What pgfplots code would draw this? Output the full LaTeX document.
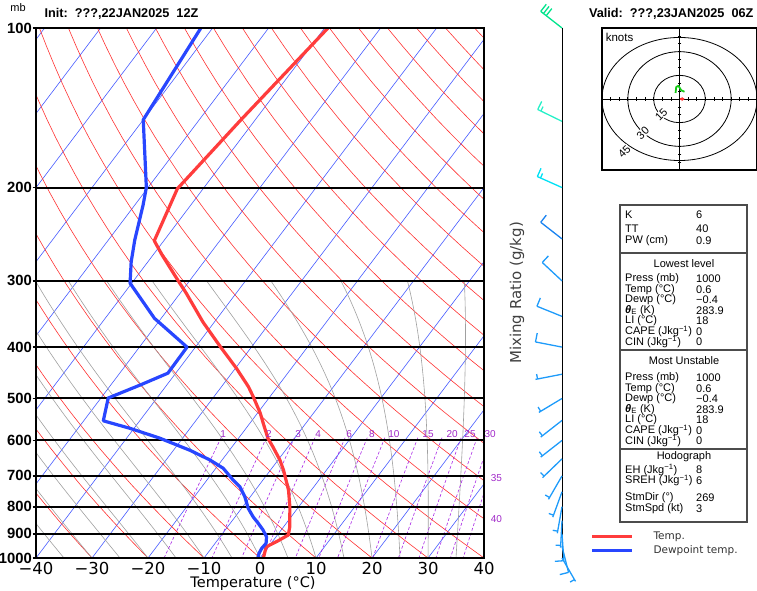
\documentclass[border=0pt]{standalone}
\usepackage{pgfplots}
\pgfplotsset{compat=1.18}
\usepackage{pgfplotstable}
\usepackage{fontspec}
\setmainfont{Liberation Sans}
\newfontfamily\dejavu{DejaVu Sans}
\usetikzlibrary{arrows.meta}

\definecolor{isocol}{RGB}{70,90,255}
\definecolor{drycol}{RGB}{255,50,50}
\definecolor{moistcol}{RGB}{160,160,160}
\definecolor{mixcol}{RGB}{170,40,230}
\definecolor{mixlab}{RGB}{160,40,200}
\definecolor{tcol}{RGB}{255,60,60}
\definecolor{tdcol}{RGB}{40,70,255}
\definecolor{hodogreen}{RGB}{20,200,20}

\pgfplotsset{colormap={windmap}{rgb255(0)=(30,155,250) rgb255(1)=(25,130,240) rgb255(2)=(0,225,245) rgb255(3)=(40,240,200) rgb255(4)=(0,228,140)}}

% ---------- sounding data ----------
\pgfplotstableread{
p T
1000 0.6
953 -0.4
928 0.9
905 1.95
873 1.1
800 -1.6
744 -4.1
682 -7.7
653 -9.7
617 -12.7
595 -14.7
557 -17.6
533 -19.5
496 -23.0
475 -25.2
438 -29.9
400 -35.5
359 -42.0
316 -49.0
300 -52.0
268 -58.4
252 -61.7
201 -64.6
150 -62.6
100 -59.4
}\temptable

\pgfplotstableread{
p T
1000 -0.4
980 -0.8
959 -1.0
938 -0.9
912 -1.7
886 -3.2
860 -5.0
836 -6.8
806 -8.8
766 -11.0
734 -13.2
713 -15.3
677 -18.7
653 -22.2
626 -27.1
594 -34.1
569 -40.8
551 -46.5
499 -48.7
472 -44.8
448 -41.4
400 -41.5
353 -51.2
303 -60.3
276 -63.0
251 -65.3
216 -68.5
200 -70.3
149 -80.0
100 -82.1
}\dewtable

% winds: p, direction (deg), colour index
\pgfplotstableread{
p d c
100 308 4
150 296 3
200 294 2
250 308 1
300 313 0
350 292 0
400 281 0
450 259 0
500 239 0
550 232 0
600 232 0
650 226 0
700 210 0
750 200 0
800 190 0
850 183 0
900 176 0
950 166 0
1000 150 0
}\staffs

\pgfplotstableread{
p d k c
100 308 0 4
100 308 1 4
100 308 2 4
150 296 0 3
200 294 0 2
250 308 0 1
300 313 0 0
350 292 0 0
400 281 0 0
900 176 0 0
950 166 0 0
}\fullbarbs

\pgfplotstableread{
p d k c
150 296 1 3
200 294 1 2
450 259 0.6 0
500 239 0.6 0
550 232 0.6 0
600 232 0.6 0
650 226 0.6 0
700 210 0.6 0
750 200 0.6 0
800 190 0.6 0
850 183 0.6 0
1000 150 0.6 0
}\halfbarbs

% ---------- moist adiabats (pseudo-adiabatic, Euler steps of 10 hPa) ----------
\ExplSyntaxOn
\fp_new:N \l_sk_t_fp
\fp_new:N \l_sk_p_fp
\fp_new:N \l_sk_es_fp
\fp_new:N \l_sk_ws_fp
\tl_new:N \g_sk_coords_tl
\cs_new_protected:Npn \skmoist #1
  {
    \fp_set:Nn \l_sk_t_fp { #1 + 273.15 }
    \fp_set:Nn \l_sk_p_fp { 1000 }
    \tl_gset:Nx \g_sk_coords_tl { ( \fp_eval:n { #1 } , 1000 ) }
    \int_step_inline:nn { 70 }
      {
        \fp_set:Nn \l_sk_es_fp
          { 6.112 * exp ( 17.67 * ( \l_sk_t_fp - 273.15 ) / ( \l_sk_t_fp - 29.65 ) ) }
        \fp_set:Nn \l_sk_ws_fp
          { 0.622 * \l_sk_es_fp / ( \l_sk_p_fp - \l_sk_es_fp ) }
        \fp_set:Nn \l_sk_t_fp
          { \l_sk_t_fp - 10 / \l_sk_p_fp * ( 287.04 * \l_sk_t_fp + 2.501e6 * \l_sk_ws_fp )
            / ( 1005.7 + 2.501e6 * 2.501e6 * 0.622 * \l_sk_ws_fp / ( 287.04 * \l_sk_t_fp * \l_sk_t_fp ) ) }
        \fp_sub:Nn \l_sk_p_fp { 10 }
        \tl_gput_right:Nx \g_sk_coords_tl
          { ( \fp_eval:n { round ( \l_sk_t_fp - 273.15 + 31.07 * ln ( 1000 / \l_sk_p_fp ) , 3 ) } , \fp_eval:n { \l_sk_p_fp } ) }
      }
  }
\cs_new_protected:Npn \sk_addplot:n #1
  { \addplot [ moistcol , line~width = 0.6pt ] coordinates { #1 } ; }
\cs_new_protected:Npn \skplotmoist #1
  {
    \skmoist {#1}
    \exp_args:NV \sk_addplot:n \g_sk_coords_tl
  }
\ExplSyntaxOff

\newcommand\tabfont{\fontsize{11}{12}\selectfont}
\newcommand\trow[3]{%
  \node[anchor=west, font=\tabfont, inner sep=0pt] at (625,591-#1) {#2};
  \node[anchor=west, font=\tabfont, inner sep=0pt] at (696,591-#1) {#3};}

\begin{document}
\begin{tikzpicture}[x=1pt,y=1pt]
\path[use as bounding box] (0,0) rectangle (757,591);

% ================= main skew-T =================
\begin{axis}[
  at={(36pt,33pt)}, anchor=south west, scale only axis,
  width=448pt, height=530pt,
  xmin=-40, xmax=40, ymode=log, ymin=100, ymax=1000, y dir=reverse,
  ytick={100,200,300,400,500,600,700,800,900,1000},
  yticklabels={100,200,300,400,500,600,700,800,900,1000},
  yminorticks=false, xminorticks=false,
  ytick pos=left, tick align=outside, major tick length=3.5pt,
  xtick={-40,-30,-20,-10,0,10,20,30,40},
  xticklabels={−40,−30,−20,−10,0,10,20,30,40},
  xtick style={draw=none},
  ytick style={line width=1.8pt, black},
  yticklabel style={font=\bfseries\fontsize{14.8}{16}\selectfont, inner sep=0.5pt},
  xticklabel style={font=\dejavu\fontsize{16.5}{17}\selectfont, inner sep=0.5pt},
  axis line style={line width=1.8pt},
  axis on top,
  clip mode=individual,
]
% isotherms
\pgfplotsinvokeforeach{-130,-120,...,40}{
  \addplot[isocol, line width=0.6pt, domain=0:1, samples=2] ({#1+71.54*x}, {1000*exp(-2.302585*x)});
}
% dry adiabats
\pgfplotsinvokeforeach{-40,-30,...,200}{
  \addplot[drycol, line width=0.6pt, domain=0:2.302585, samples=30] ({(#1+273.15)*exp(-0.28571*x) - 273.15 + 31.07*x}, {1000*exp(-x)});
}
% moist adiabats
\pgfplotsinvokeforeach{-40,-35,...,35}{\skplotmoist{#1}}
% mixing ratio lines
\pgfplotsinvokeforeach{1,2,3,4,6,8,10,15,20,25,30,35,40}{
  \addplot[mixcol, line width=0.6pt, dash pattern=on 3pt off 2pt, domain=593:1000, samples=6]
    ({243.5*ln(x*#1/(622+#1)/6.112)/(17.67-ln(x*#1/(622+#1)/6.112)) + 31.07*ln(1000/x)}, {x});
}
% isobars
\pgfplotsinvokeforeach{200,300,400,500,600,700,800,900}{
  \draw[black, line width=2pt] (axis cs:-40,#1) -- (axis cs:40,#1);
}
% profiles
\addplot[tcol, line width=3.2pt, line join=round] table[x expr={\thisrow{T}+31.07*ln(1000/\thisrow{p})}, y=p] {\temptable};
\addplot[tdcol, line width=3.2pt, line join=round] table[x expr={\thisrow{T}+31.07*ln(1000/\thisrow{p})}, y=p] {\dewtable};
% mixing ratio labels
\begin{scope}[every node/.style={font=\fontsize{10}{11}\selectfont, text=mixlab, inner sep=0pt}]
\node at (axis cs:-6.6,583) {1};
\node at (axis cs:1.6,583) {2};
\node at (axis cs:6.8,583) {3};
\node at (axis cs:10.4,583) {4};
\node at (axis cs:15.9,583) {6};
\node at (axis cs:20.0,583) {8};
\node at (axis cs:23.9,583) {10};
\node at (axis cs:30.0,583) {15};
\node at (axis cs:34.3,583) {20};
\node at (axis cs:37.5,583) {25};
\node at (axis cs:41.1,583) {30};
\node at (axis cs:42.2,706) {35};
\node at (axis cs:42.2,844) {40};
\end{scope}
\draw[line width=2.8pt] (rel axis cs:0,0) -- (rel axis cs:0,1);
\end{axis}

% ================= winds =================
\begin{axis}[
  at={(500pt,33pt)}, anchor=south west, scale only axis,
  width=100pt, height=530pt, xmin=500, xmax=600, ymin=0, ymax=530,
  hide axis, clip=false, colormap name=windmap, point meta min=0, point meta max=4,
]
\addplot[black, line width=0.8pt] coordinates {(562,0) (562,530)};
\addplot[quiver={u={27*sin(\thisrow{d})}, v={27*cos(\thisrow{d})}, colored=mapped color},
  point meta=\thisrow{c}, line width=1.3pt, -]
  table[x expr=562, y expr={230.17*ln(1000/\thisrow{p})}] {\staffs};
\addplot[quiver={u={9*cos(\thisrow{d})}, v={-9*sin(\thisrow{d})}, colored=mapped color},
  point meta=\thisrow{c}, line width=1.3pt, -]
  table[x expr={562+(27-3.5*\thisrow{k})*sin(\thisrow{d})}, y expr={230.17*ln(1000/\thisrow{p})+(27-3.5*\thisrow{k})*cos(\thisrow{d})}] {\fullbarbs};
\addplot[quiver={u={5*cos(\thisrow{d})}, v={-5*sin(\thisrow{d})}, colored=mapped color},
  point meta=\thisrow{c}, line width=1.3pt, -]
  table[x expr={562+(27-3.5*\thisrow{k})*sin(\thisrow{d})}, y expr={230.17*ln(1000/\thisrow{p})+(27-3.5*\thisrow{k})*cos(\thisrow{d})}] {\halfbarbs};
\end{axis}

% ================= hodograph =================
\begin{axis}[
  at={(602pt,421pt)}, anchor=south west, scale only axis,
  width=155pt, height=142pt, xmin=-45, xmax=45, ymin=-45, ymax=45,
  xtick=\empty, ytick=\empty, axis line style={line width=1.2pt},
  clip mode=individual,
]
\draw[line width=0.8pt] (axis cs:0,0) ellipse [x radius=15, y radius=15];
\draw[line width=0.8pt] (axis cs:0,0) ellipse [x radius=30, y radius=30];
\draw[line width=0.8pt] (axis cs:0,0) ellipse [x radius=45, y radius=39];
\addplot[black, line width=0.8pt] coordinates {(-45,0) (45,0)};
\addplot[black, line width=0.8pt] coordinates {(0,-45) (0,45)};
\addplot[black, only marks, mark=|, mark size=1.8pt, mark options={line width=0.7pt}] coordinates {
(-40,0) (-35,0) (-30,0) (-25,0) (-20,0) (-15,0) (-10,0) (-5,0) (5,0) (10,0) (15,0) (20,0) (25,0) (30,0) (35,0) (40,0)};
\addplot[black, only marks, mark=-, mark size=1.8pt, mark options={line width=0.7pt}] coordinates {
(0,-40) (0,-35) (0,-30) (0,-25) (0,-20) (0,-15) (0,-10) (0,-5) (0,5) (0,10) (0,15) (0,20) (0,25) (0,30) (0,35) (0,40)};
\addplot[hodogreen, line width=1.8pt, line join=round] coordinates {(-2.3,3.8) (-1.9,7.6) (-0.6,8.4) (1.0,5.5) (2.9,4.6)};
\addplot[red!80, line width=1.4pt, -{Triangle[length=3pt,width=4pt]}] coordinates {(0,0) (3,0)};
\node[rotate=45, font=\fontsize{11}{12}\selectfont, fill=white, inner sep=0.5pt] at (axis cs:-10.6,-10.0) {15};
\node[rotate=45, font=\fontsize{11}{12}\selectfont, fill=white, inner sep=0.5pt] at (axis cs:-21.3,-21.6) {30};
\node[rotate=45, font=\fontsize{11}{12}\selectfont, fill=white, inner sep=0.5pt] at (axis cs:-32.0,-33.3) {45};
\node[anchor=west, font=\fontsize{11.5}{12}\selectfont, fill=white, inner sep=0.5pt] at (rel axis cs:0.02,0.935) {knots};
\end{axis}

% ================= titles =================
\node[font=\fontsize{11}{12}\selectfont] at (18,583) {mb};
\node[anchor=west, font=\bfseries\fontsize{12.7}{14}\selectfont] at (41,577) {Init:\ \ ???,22JAN2025\ \ 12Z};
\node[anchor=east, font=\bfseries\fontsize{12.7}{14}\selectfont] at (757,577) {Valid:\ \ ???,23JAN2025\ \ 06Z};
\node[font=\dejavu\fontsize{14.5}{16}\selectfont] at (253,7) {Temperature (°C)};
\node[rotate=90, font=\dejavu\fontsize{15}{16}\selectfont, text=black!75] at (517,298) {Mixing Ratio (g/kg)};

% ================= table =================
\draw[black!70, line width=1.2pt] (620,591-205) rectangle (747,591-522);
\draw[black!70, line width=1.2pt] (620,591-253) -- (747,591-253);
\draw[black!70, line width=1.2pt] (620,591-350) -- (747,591-350);
\draw[black!70, line width=1.2pt] (620,591-449) -- (747,591-449);
\trow{215}{K}{6}
\trow{229}{TT}{40}
\trow{241}{PW (cm)}{0.9}
\node[font=\tabfont] at (684,591-264) {Lowest level};
\trow{279}{Press (mb)}{1000}
\trow{289.5}{Temp (°C)}{0.6}
\trow{300}{Dewp (°C)}{−0.4}
\trow{310.5}{{\bfseries\itshape θ}\textsubscript{E} (K)}{283.9}
\trow{321}{LI (°C)}{18}
\trow{331.5}{CAPE (Jkg\textsuperscript{−1})}{0}
\trow{342}{CIN (Jkg\textsuperscript{−1})}{0}
\node[font=\tabfont] at (684,591-361) {Most Unstable};
\trow{378}{Press (mb)}{1000}
\trow{388.5}{Temp (°C)}{0.6}
\trow{399}{Dewp (°C)}{−0.4}
\trow{409.5}{{\bfseries\itshape θ}\textsubscript{E} (K)}{283.9}
\trow{420}{LI (°C)}{18}
\trow{430.5}{CAPE (Jkg\textsuperscript{−1})}{0}
\trow{441}{CIN (Jkg\textsuperscript{−1})}{0}
\node[font=\tabfont] at (684,591-457) {Hodograph};
\trow{470}{EH (Jkg\textsuperscript{−1})}{8}
\trow{480.5}{SREH (Jkg\textsuperscript{−1})}{6}
\trow{498}{StmDir (°)}{269}
\trow{508.5}{StmSpd (kt)}{3}

% ================= legend =================
\draw[tcol, line width=3pt] (592,54) -- (632,54);
\draw[tdcol, line width=3pt] (592,40) -- (632,40);
\node[anchor=west, font=\dejavu\fontsize{10.5}{12}\selectfont, text=black!80] at (650,54) {Temp.};
\node[anchor=west, font=\dejavu\fontsize{10.5}{12}\selectfont, text=black!80] at (650,40) {Dewpoint temp.};
\end{tikzpicture}
\end{document}
